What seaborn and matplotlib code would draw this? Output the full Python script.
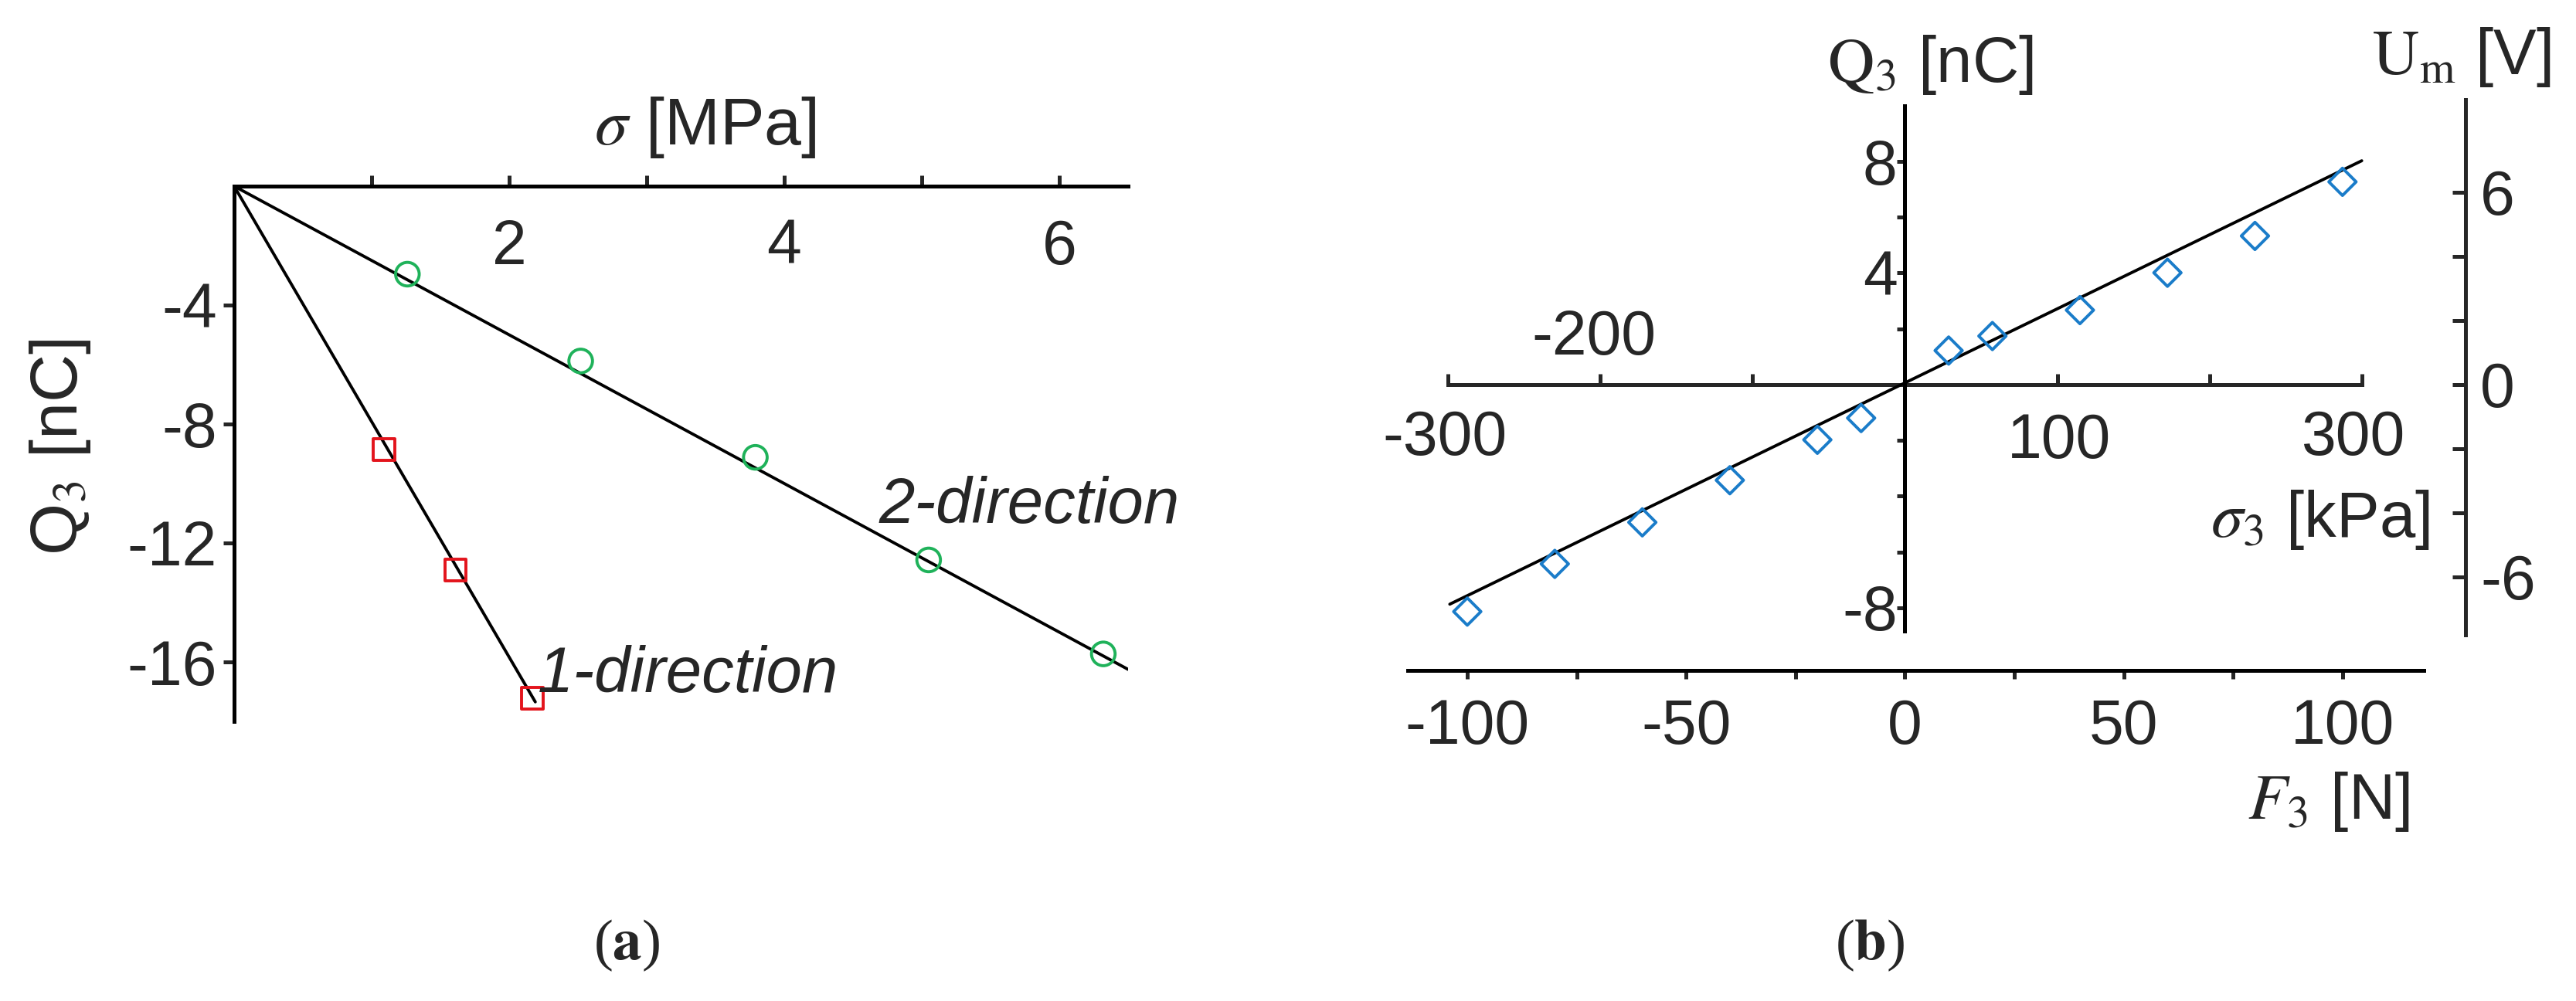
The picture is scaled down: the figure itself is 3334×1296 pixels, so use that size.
import numpy as np
import pandas as pd
import matplotlib
matplotlib.use("Agg")
import matplotlib.pyplot as plt
import seaborn as sns
from matplotlib.ticker import FixedLocator, NullFormatter

sns.set_theme(style="white")
plt.rcParams['font.family'] = ['Liberation Sans', 'DejaVu Sans']
plt.rcParams['mathtext.fontset'] = 'stix'
plt.rcParams['axes.unicode_minus'] = False

# ---------------- data: panel (a) ----------------
sigma_2dir = [1.26, 2.52, 3.79, 5.05, 6.32]           # MPa
q_2dir = [-2.96, -5.88, -9.12, -12.57, -15.73]        # nC
sigma_1dir = [1.09, 1.61, 2.17]
q_1dir = [-8.86, -12.9, -17.23]
fit_2dir_slope, fit_2dir_xmax = -2.50, 6.5
fit_1dir_slope, fit_1dir_xmax = -7.92, 2.19

# ---------------- data: panel (b) ----------------
force_n = [-100, -80, -60, -40, -20, -10, 10, 20, 40, 60, 80, 100]
q3_nc = [-8.14, -6.43, -4.94, -3.43, -1.98, -1.20, 1.22, 1.74, 2.67, 4.01, 5.33, 7.27]
fit_b_slope, fit_b_intercept = 0.0763, 0.06
fit_b_xrange = [-104.0, 104.4]
kpa_per_n = 2.873
volt_per_nc = 0.87

W, H = 3334, 1296
fig = plt.figure(figsize=(W / 100, H / 100), dpi=100)

def box(x0, y0, x1, y1):
    return [x0 / W, 1 - y1 / H, (x1 - x0) / W, (y1 - y0) / H]

def P(x, y):
    return x / W, 1 - y / H

LW = 3.6
TF = 58
LF = 60

# ================= panel (a) =================
axa = fig.add_axes(box(303, 241, 1460, 934))
axa.set_xlim(0, 6.5)
axa.set_ylim(-18, 0)
for s in ['top', 'right']:
    axa.spines[s].set_visible(False)
axa.spines['bottom'].set_position(('data', 0))
for s in ['bottom', 'left']:
    axa.spines[s].set_linewidth(LW)
    axa.spines[s].set_color('black')

fa2 = pd.DataFrame({'x': [0, fit_2dir_xmax], 'y': [0, fit_2dir_slope * fit_2dir_xmax]})
fa1 = pd.DataFrame({'x': [0, fit_1dir_xmax], 'y': [0, fit_1dir_slope * fit_1dir_xmax]})
sns.lineplot(data=fa2, x='x', y='y', ax=axa, color='black', lw=2.8)
sns.lineplot(data=fa1, x='x', y='y', ax=axa, color='black', lw=2.8)
axa.scatter(sigma_2dir, q_2dir, s=22**2, facecolors='none', edgecolors='#1fb25a',
            linewidths=2.8, zorder=3, clip_on=False)
axa.scatter(sigma_1dir, q_1dir, s=20**2, marker='s', facecolors='none',
            edgecolors='#e3141c', linewidths=2.8, zorder=3, clip_on=False)

axa.xaxis.set_major_locator(FixedLocator([2, 4, 6]))
axa.xaxis.set_minor_locator(FixedLocator([1, 3, 5]))
axa.yaxis.set_major_locator(FixedLocator([-4, -8, -12, -16]))
axa.tick_params(axis='x', which='both', direction='in', length=10, width=LW,
                bottom=True, labelsize=TF, pad=30)
axa.tick_params(axis='y', which='both', direction='out', length=10, width=LW,
                left=True, labelsize=TF, pad=6)
axa.set_xlabel(''); axa.set_ylabel('')
axa.grid(False)
axa.text(5.78, -10.75, '2-direction', fontsize=LF, style='italic', ha='center', va='center')
axa.text(3.3, -16.45, '1-direction', fontsize=LF, style='italic', ha='center', va='center')
fig.text(*P(913, 165), r'$\sigma$ [MPa]', fontsize=62, ha='center', va='center')
fig.text(*P(78, 579), r'Q$_3$ [nC]', fontsize=62, ha='center', va='center', rotation=90)
fig.text(*P(811, 1224), r'($\mathbf{a}$)', fontsize=54, ha='center', va='center',
         family='Liberation Serif')

# ================= panel (b) =================
xmin, xmax = -113.6, 135.0
ymin, ymax = -10.25, 10.3
axb = fig.add_axes(box(1822, 126, 3230, 868))
axb.set_xlim(xmin, xmax)
axb.set_ylim(ymin, ymax)
axb.grid(False)
for s in ['top', 'right']:
    axb.spines[s].set_visible(False)
axb.spines['left'].set_position(('data', 0))
axb.spines['left'].set_bounds(-8.84, 10.0)
axb.spines['bottom'].set_bounds(-113.6, 118.6)
for s in ['bottom', 'left']:
    axb.spines[s].set_linewidth(LW)
    axb.spines[s].set_color('black')

fb = pd.DataFrame({'x': fit_b_xrange,
                   'y': [fit_b_slope * v + fit_b_intercept for v in fit_b_xrange]})
sns.lineplot(data=fb, x='x', y='y', ax=axb, color='black', lw=2.8)
axb.scatter(force_n, q3_nc, s=18**2, marker='D', facecolors='none',
            edgecolors='#1a7cc9', linewidths=2.8, zorder=3)

axb.xaxis.set_major_locator(FixedLocator([-100, -50, 0, 50, 100]))
axb.xaxis.set_minor_locator(FixedLocator([-75, -25, 25, 75]))
axb.tick_params(axis='x', which='both', direction='out', length=8, width=LW,
                bottom=True, labelsize=TF, pad=18)
axb.yaxis.set_major_locator(FixedLocator([-8, 4, 8]))
axb.yaxis.set_minor_locator(FixedLocator([-6, -4, -2, 2, 6]))
axb.tick_params(axis='y', which='both', direction='out', length=7, width=LW,
                left=True, labelsize=TF, pad=0)
axb.set_xlabel(''); axb.set_ylabel('')

# sigma3 axis (kPa) through Q = 0
loc_sig = (0 - ymin) / (ymax - ymin)
sax = axb.secondary_xaxis(loc_sig, functions=(lambda f: f * kpa_per_n, lambda s: s / kpa_per_n))
sax.set_xticks([-300, -200, -100, 0, 100, 200, 300])
sax.xaxis.set_major_formatter(NullFormatter())
sax.tick_params(axis='x', direction='in', length=10, width=LW, top=False, bottom=True)
sax.spines['bottom'].set_linewidth(LW)
sax.spines['bottom'].set_bounds(-300, 300)
for lab, x, y in [('-300', 1870, 568), ('-200', 2063, 438), ('100', 2665, 572), ('300', 3046, 568)]:
    fig.text(*P(x, y), lab, fontsize=TF, ha='center', va='center')

# Um axis (V)
loc_u = (128.1 - xmin) / (xmax - xmin)
uax = axb.secondary_yaxis(loc_u, functions=(lambda q: q * volt_per_nc, lambda u: u / volt_per_nc))
uax.yaxis.set_major_locator(FixedLocator([-6, 0, 6]))
uax.yaxis.set_minor_locator(FixedLocator([-4, -2, 2, 4]))
uax.tick_params(axis='y', which='both', direction='in', length=12, width=LW,
                right=True, labelsize=TF, pad=14)
uax.spines['right'].set_linewidth(LW)
uax.spines['right'].set_bounds(-7.8, 8.9)

fig.text(*P(2498, 84), r'$\mathrm{Q}_3$ [nC]', fontsize=LF, ha='center', va='center')
fig.text(*P(3186, 74), r'$\mathrm{U}_\mathrm{m}$ [V]', fontsize=LF, ha='center', va='center')
fig.text(*P(3003, 673), r'$\sigma_3$ [kPa]', fontsize=LF, ha='center', va='center')
fig.text(*P(3014, 1038), r'$F_3$ [N]', fontsize=LF, ha='center', va='center')
fig.text(*P(2420, 1224), r'($\mathbf{b}$)', fontsize=54, ha='center', va='center',
         family='Liberation Serif')

fig.savefig('out.png', dpi=100, facecolor='white')
